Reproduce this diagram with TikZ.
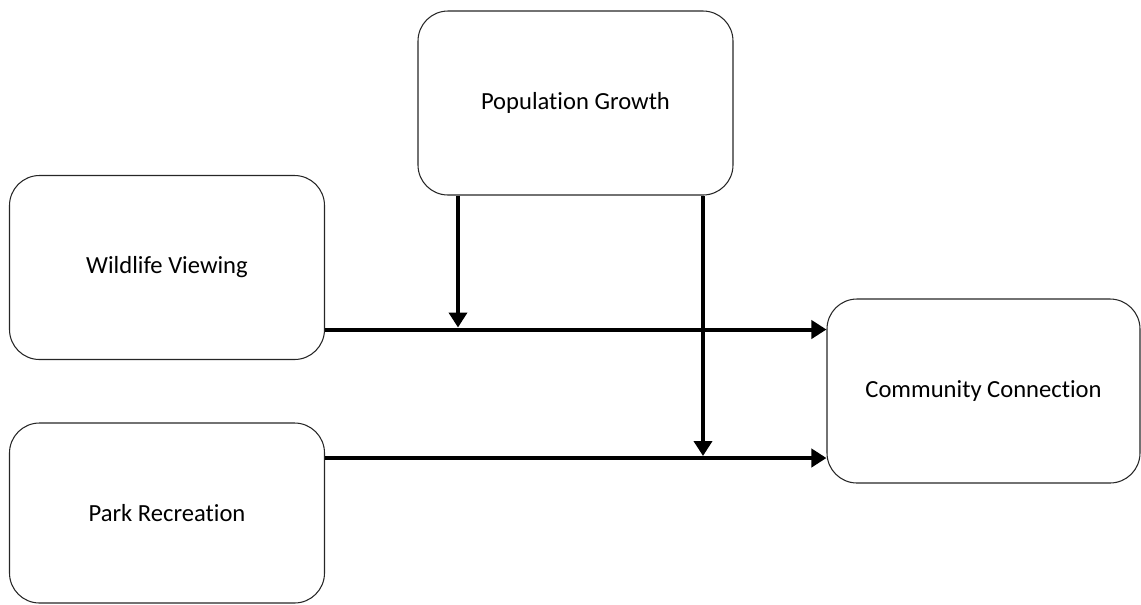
\documentclass[tikz,border=0pt]{standalone}
\usepackage{fontspec}
\setmainfont{Carlito}[Ligatures=NoCommon]
\usepackage{tikz}
\usetikzlibrary{calc,shapes,positioning}
\usetikzlibrary{arrows.meta}
\tikzset{>={Triangle[width=3.6mm,length=3mm]}}

\begin{document}
\begin{tikzpicture}
      \tikzstyle{bnode} = [draw=black!85, line width=0.6pt, rounded corners = 0.6cm, rectangle, minimum width=6.3cm, minimum height=3.68cm, align=center, font=\fontsize{14}{16}\selectfont]
      \tikzstyle{link} = [line width=0.08cm, ->]
      \useasboundingbox (0,0) rectangle (22.82,-12.08);

      \node[bnode] (pop) at (11.51,-2.06) {Population Growth};
      \node[bnode] (wild) at (3.34,-5.35) {Wildlife Viewing};
      \node[bnode, minimum height=3.6cm] (park) at (3.34,-10.26) {Park Recreation};
      \node[bnode, minimum width=6.26cm] (comm) at (19.67,-7.82) {Community Connection};

      \coordinate (w1) at ($(wild.east)+(0,-1.24)$);
      \coordinate (p1) at ($(park.east)+(0,1.1)$);
      \draw[link] (w1) -- (comm.west |- w1);
      \draw[link] (p1) -- (comm.west |- p1);
      \draw[link] ($(pop.south)+(-2.35,0)$) -- ($(pop.south |- w1)+(-2.35,0.04)$);
      \draw[link] ($(pop.south)+(2.55,0)$) -- ($(pop.south |- p1)+(2.55,0.04)$);
    \end{tikzpicture}
\end{document}
